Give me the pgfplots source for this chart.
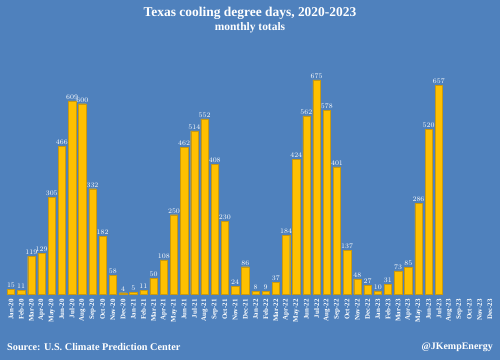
\documentclass[border=0pt]{standalone}
\usepackage{pgfplots}
\pgfplotsset{compat=1.18}
\usepackage{fontspec}
\setmainfont{Liberation Serif}
\definecolor{bg}{HTML}{4F81BD}
\definecolor{bar}{HTML}{FFC000}
\definecolor{barline}{HTML}{C99A10}
\begin{document}
\begin{tikzpicture}[x=1bp,y=1bp]
\fill[bg] (0,0) rectangle (500,360);
\begin{axis}[
  at={(5.9bp,66bp)}, anchor=south west,
  scale only axis, width=489bp, height=222bp,
  xmin=-0.5, xmax=47.5, ymin=0, ymax=700,
  axis line style={draw=none}, tick style={draw=none},
  ytick=\empty,
  xtick={0,...,47},
  xticklabels={Jan-20,Feb-20,Mar-20,Apr-20,May-20,Jun-20,Jul-20,Aug-20,Sep-20,Oct-20,Nov-20,Dec-20,
  Jan-21,Feb-21,Mar-21,Apr-21,May-21,Jun-21,Jul-21,Aug-21,Sep-21,Oct-21,Nov-21,Dec-21,
  Jan-22,Feb-22,Mar-22,Apr-22,May-22,Jun-22,Jul-22,Aug-22,Sep-22,Oct-22,Nov-22,Dec-22,
  Jan-23,Feb-23,Mar-23,Apr-23,May-23,Jun-23,Jul-23,Aug-23,Sep-23,Oct-23,Nov-23,Dec-23},
  xticklabel style={rotate=90, anchor=east, font=\fontsize{7}{8}\selectfont\bfseries, text=white, inner sep=1pt},
  ybar, bar width=7.3bp,
  nodes near coords,
  every node near coord/.append style={font=\fontsize{7}{8}\selectfont\bfseries, text=white, inner sep=1.5pt},
]
\addplot[fill=bar, draw=barline, line width=0.4pt] coordinates {
(0,15)(1,11)(2,119)(3,129)(4,305)(5,466)(6,609)(7,600)(8,332)(9,182)(10,58)(11,4)
(12,5)(13,11)(14,50)(15,108)(16,250)(17,462)(18,514)(19,552)(20,408)(21,230)(22,24)(23,86)
(24,8)(25,9)(26,37)(27,184)(28,424)(29,562)(30,675)(31,578)(32,401)(33,137)(34,48)(35,27)
(36,10)(37,31)(38,73)(39,85)(40,286)(41,520)(42,657)
};
\end{axis}
\node[text=white, font=\fontsize{13.5}{15}\selectfont\bfseries] at (250,347) {Texas cooling degree days, 2020-2023};
\node[text=white, font=\fontsize{11.5}{13}\selectfont\bfseries] at (250,332) {monthly totals};
\node[text=white, font=\fontsize{10.3}{12}\selectfont\bfseries, anchor=west, inner sep=0pt] at (7,13) {Source: U.S. Climate Prediction Center};
\node[text=white, font=\fontsize{10}{12}\selectfont\bfseries, anchor=east, inner sep=0pt] at (493,13) {@JKempEnergy};
\pgfresetboundingbox
\useasboundingbox (0,0) rectangle (500,360);
\end{tikzpicture}
\end{document}
